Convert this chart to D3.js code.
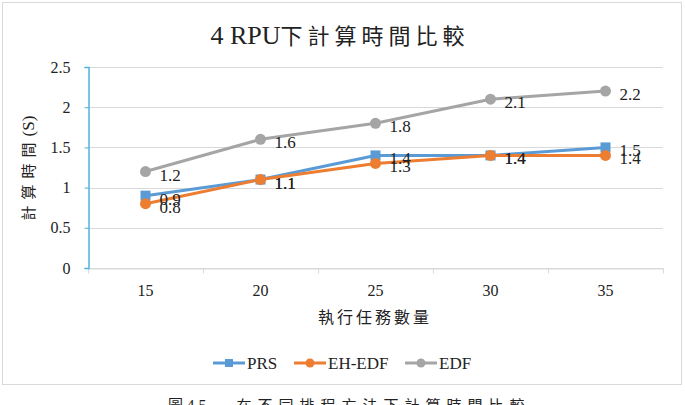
<!DOCTYPE html>
<html>
<head>
<meta charset="utf-8">
<script src="https://cdn.jsdelivr.net/npm/d3@7/dist/d3.min.js"></script>
<style>
  body { margin: 0; background: #fff; overflow: hidden; }
</style>
</head>
<body>
<script>
var categories = ['15', '20', '25', '30', '35'];
var prs = [0.9, 1.1, 1.4, 1.4, 1.5];
var ehEdf = [0.8, 1.1, 1.3, 1.4, 1.4];
var edf = [1.2, 1.6, 1.8, 2.1, 2.2];
var yTicks = [0, 0.5, 1, 1.5, 2, 2.5];

var series = [
  {name: 'PRS', values: prs, color: '#5B9BD5', shape: 'square'},
  {name: 'EH-EDF', values: ehEdf, color: '#ED7D31', shape: 'circle'},
  {name: 'EDF', values: edf, color: '#A5A5A5', shape: 'circle'}
];

var LAT = '"Liberation Serif", "Times New Roman", serif';
var CJK = '"Noto Sans CJK TC", "Noto Sans CJK SC", sans-serif';

var W = 685, H = 405;
var margin = {top: 67, right: 22, bottom: 137, left: 88},
    width = W - margin.left - margin.right,
    height = H - margin.top - margin.bottom;

var svg = d3.select('body').append('svg')
    .attr('width', W)
    .attr('height', H);

// chart frame
svg.append('rect')
  .attr('x', 2.5).attr('y', 2.5)
  .attr('width', 679).attr('height', 382)
  .attr('fill', '#fff')
  .attr('stroke', '#d9d9d9');

// title
var title = svg.append('text')
  .attr('x', 340).attr('y', 44)
  .attr('text-anchor', 'middle')
  .attr('fill', '#222');
title.append('tspan').attr('font-family', LAT).attr('font-size', 26).text('4 RPU');
title.append('tspan').attr('font-family', CJK).attr('font-size', 22)
  .attr('letter-spacing', 5).text('下計算時間比較');

var g = svg.append('g')
  .attr('transform', 'translate(' + margin.left + ',' + margin.top + ')');

var x = d3.scaleBand().domain(categories).range([0, width]);
var y = d3.scaleLinear().domain([0, 2.5]).range([height, 0]);

// gridlines
g.selectAll('.grid')
  .data(yTicks)
  .enter().append('line')
    .attr('x1', 0).attr('x2', width)
    .attr('y1', function(d) { return Math.round(y(d)) + 0.5; })
    .attr('y2', function(d) { return Math.round(y(d)) + 0.5; })
    .attr('stroke', '#d9d9d9');

// x axis
var xAxis = g.append('g')
  .attr('transform', 'translate(0,' + (Math.round(height) + 0.5) + ')')
  .call(d3.axisBottom(x).tickSize(0).tickPadding(16))
  .attr('font-family', LAT)
  .attr('font-size', 16);
xAxis.select('.domain').attr('stroke', '#d9d9d9');
xAxis.selectAll('text').attr('fill', '#222');
xAxis.selectAll('.bound')
  .data(d3.range(categories.length + 1))
  .enter().append('line')
    .attr('x1', function(i) { return Math.round(i * x.bandwidth()) + 0.5; })
    .attr('x2', function(i) { return Math.round(i * x.bandwidth()) + 0.5; })
    .attr('y1', 0).attr('y2', 5)
    .attr('stroke', '#d9d9d9');

// y axis
var yAxis = g.append('g')
  .attr('transform', 'translate(0.5,0)')
  .call(d3.axisLeft(y).tickValues(yTicks).tickSize(4).tickPadding(14)
    .tickFormat(function(d) { return d; }))
  .attr('font-family', LAT)
  .attr('font-size', 16);
yAxis.select('.domain').attr('stroke', '#4FB3DE').attr('stroke-width', 1.5);
yAxis.selectAll('.tick line').attr('stroke', '#4FB3DE');
yAxis.selectAll('text').attr('fill', '#222');

// axis titles
svg.append('text')
  .attr('transform', 'translate(34,168) rotate(-90)')
  .attr('text-anchor', 'middle')
  .attr('fill', '#222')
  .call(function(t) {
    t.append('tspan').attr('font-family', CJK).attr('font-size', 15)
      .attr('letter-spacing', 6).text('計算時間');
    t.append('tspan').attr('font-family', LAT).attr('font-size', 17).text('(S)');
  });

svg.append('text')
  .attr('x', 375).attr('y', 323)
  .attr('text-anchor', 'middle')
  .attr('font-family', CJK)
  .attr('font-size', 16)
  .attr('letter-spacing', 3)
  .attr('fill', '#222')
  .text('執行任務數量');

// lines
var line = d3.line()
  .x(function(d, i) { return x(categories[i]) + x.bandwidth() / 2; })
  .y(function(d) { return y(d); });

series.forEach(function(s) {
  g.append('path')
    .datum(s.values)
    .attr('d', line)
    .attr('fill', 'none')
    .attr('stroke', s.color)
    .attr('stroke-width', 3)
    .attr('stroke-linejoin', 'round');
});

function drawMarker(sel, s, cx, cy, size) {
  if (s.shape === 'square') {
    sel.append('rect')
      .attr('x', cx - size / 2).attr('y', cy - size / 2)
      .attr('width', size).attr('height', size)
      .attr('fill', s.color);
  } else {
    sel.append('circle')
      .attr('cx', cx).attr('cy', cy).attr('r', size / 2 + 0.5)
      .attr('fill', s.color);
  }
}

series.forEach(function(s) {
  s.values.forEach(function(v, i) {
    var cx = x(categories[i]) + x.bandwidth() / 2;
    drawMarker(g, s, cx, y(v), 10);
  });
});

// data labels
series.forEach(function(s) {
  g.selectAll('.lbl-' + s.name)
    .data(s.values)
    .enter().append('text')
      .attr('font-family', LAT)
      .attr('x', function(d, i) { return x(categories[i]) + x.bandwidth() / 2 + 14; })
      .attr('y', function(d) { return y(d) + 9; })
      .attr('font-size', 17)
      .attr('fill', '#222')
      .text(function(d) { return d3.format('.1f')(d); });
});

// legend
var legendX = [213, 294, 405];
series.forEach(function(s, i) {
  var lg = svg.append('g').attr('transform', 'translate(' + legendX[i] + ',363)');
  lg.append('line')
    .attr('x1', 0).attr('x2', 32)
    .attr('y1', 0).attr('y2', 0)
    .attr('stroke', s.color).attr('stroke-width', 3);
  drawMarker(lg, s, 16, 0, 8);
  lg.append('text')
    .attr('font-family', LAT)
    .attr('x', 34).attr('y', 5.5)
    .attr('font-size', 17)
    .attr('fill', '#222')
    .text(s.name);
});

// figure caption (cut off at the bottom edge)
svg.append('text')
  .attr('x', 168).attr('y', 411)
  .attr('fill', '#222')
  .call(function(t) {
    t.append('tspan').attr('font-family', CJK).attr('font-size', 15).text('圖 ');
    t.append('tspan').attr('font-family', LAT).attr('font-size', 16).text('4.5');
    t.append('tspan').attr('font-family', CJK).attr('font-size', 15).attr('dx', 30)
      .attr('letter-spacing', 6).text('在不同排程方法下計算時間比較');
  });
</script>
</body>
</html>
